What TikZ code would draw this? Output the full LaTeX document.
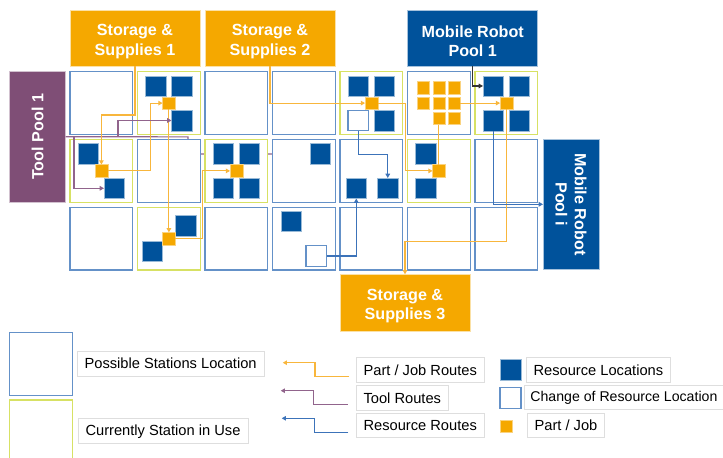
\documentclass[tikz,border=0pt]{standalone}
\usepackage{fontspec}
\setmainfont{Liberation Sans}
\usetikzlibrary{arrows.meta}
\definecolor{dblue}{RGB}{0,82,155}
\definecolor{orng}{RGB}{245,168,0}
\definecolor{purp}{RGB}{127,78,118}
\definecolor{cellblue}{RGB}{100,145,200}
\definecolor{cellyel}{RGB}{215,225,100}
\definecolor{rorange}{RGB}{248,182,60}
\definecolor{rblue}{RGB}{60,115,185}
\definecolor{rpurp}{RGB}{145,100,140}
\definecolor{lblgray}{RGB}{222,222,222}
\tikzset{
  cellb/.style={draw=cellblue, fill=white, line width=1pt, minimum size=47.1pt, inner sep=0pt, outer sep=0pt, anchor=north west},
  celly/.style={draw=cellyel, fill=white, line width=1pt, minimum size=47.1pt, inner sep=0pt, outer sep=0pt, anchor=north west},
  dsq/.style={fill=dblue, draw=white!60!dblue, line width=0.3pt, minimum size=15.4pt, inner sep=0pt, outer sep=0pt, anchor=north west},
  wsq/.style={fill=white, draw=cellblue, line width=0.9pt, minimum size=15.4pt, inner sep=0pt, outer sep=0pt, anchor=north west},
  osq/.style={fill=orng, draw=white!50!orng, line width=0.3pt, minimum size=9.5pt, inner sep=0pt, outer sep=0pt},
  gsq/.style={fill=orng, draw=white!50!orng, line width=0.3pt, minimum size=9.2pt, inner sep=0pt, outer sep=0pt},
  hbox/.style={draw=white!65!#1, fill=#1, line width=0.6pt, inner sep=0pt, outer sep=0pt, anchor=north west},
  hdr/.style={font=\bfseries\fontsize{12.1}{14.5}\selectfont, text=white, align=center, inner sep=0pt},
  lbl/.style={draw=lblgray, fill=white, line width=0.6pt, inner xsep=5.6pt, inner ysep=0pt, minimum height=18.5pt, anchor=west, font=\fontsize{11}{13}\selectfont, text=black},
  tip/.style={-{Triangle[length=3.2pt,width=3.4pt]}},
  rO/.style={draw=rorange, line width=0.8pt},
  rB/.style={draw=rblue, line width=0.8pt},
  rP/.style={draw=rpurp, line width=0.9pt},
  rK/.style={draw=black!80, line width=0.8pt},
}
\begin{document}
\begin{tikzpicture}[x=0.75pt,y=-0.75pt]
\useasboundingbox (0,0) rectangle (723,457);
\clip (0,0) rectangle (723,457);

% header boxes
\node[hbox=orng, minimum width=97.5pt, minimum height=42pt] (s1) at (70,10) {};
\node[hdr, yshift=-2.6pt] (s1t) at (s1.center) {Storage \&\\Supplies 1};
\node[hbox=orng, minimum width=97.5pt, minimum height=42pt] (s2) at (205,10) {};
\node[hdr, yshift=-2.6pt] (s2t) at (s2.center) {Storage \&\\Supplies 2};
\node[hbox=dblue, minimum width=97.5pt, minimum height=42pt] (mrp1) at (407.7,10) {};
\node[hdr, yshift=-2.6pt] (mrp1t) at (mrp1.center) {Mobile Robot\\Pool 1};
\node[hbox=orng, minimum width=97.5pt, minimum height=42.5pt] (s3) at (340,274.3) {};
\node[hdr, yshift=-2.6pt] (s3t) at (s3.center) {Storage \&\\Supplies 3};
\node[hbox=purp, minimum width=42.3pt, minimum height=97.7pt] (tp) at (9.3,71.7) {};
\node[hdr, rotate=90] (tpt) at (tp.center) {Tool Pool 1};
\node[hbox=dblue, minimum width=42pt, minimum height=97.5pt] (mrpi) at (543,139.3) {};
\node[hdr, rotate=-90] (mrpit) at (mrpi.center) {Mobile Robot\\Pool i};

% hidden tool route (behind cells)
\draw[rP] (tp.east) -- (188,136.85) -- (188,154) -- (300,154);

% cells
\node[cellb] (c11) at (70,71.7) {};
\node[celly] (c12) at (137.5,71.7) {};
\node[cellb] (c13) at (205,71.7) {};
\node[cellb] (c14) at (272.5,71.7) {};
\node[celly] (c15) at (340,71.7) {};
\node[cellb] (c16) at (407.5,71.7) {};
\node[celly] (c17) at (475,71.7) {};
\node[celly] (c21) at (70,139.5) {};
\node[cellb] (c22) at (137.5,139.5) {};
\node[celly] (c23) at (205,139.5) {};
\node[cellb] (c24) at (272.5,139.5) {};
\node[cellb] (c25) at (340,139.5) {};
\node[celly] (c26) at (407.5,139.5) {};
\node[cellb] (c27) at (475,139.5) {};
\node[cellb] (c31) at (70,207.3) {};
\node[celly] (c32) at (137.5,207.3) {};
\node[cellb] (c33) at (205,207.3) {};
\node[cellb] (c34) at (272.5,207.3) {};
\node[cellb] (c35) at (340,207.3) {};
\node[cellb] (c36) at (407.5,207.3) {};
\node[cellb] (c37) at (475,207.3) {};

% resources
\node[dsq] (d12a) at (145.5,75.7) {};
\node[dsq] (d12b) at (171.5,75.7) {};
\node[dsq] (d12c) at (171.5,110.2) {};
\node[dsq] (d15a) at (348,75.7) {};
\node[dsq] (d15b) at (374,75.7) {};
\node[wsq] (w15) at (348,110.2) {};
\node[dsq] (d15d) at (374,110.2) {};
\node[dsq] (d17a) at (483,75.7) {};
\node[dsq] (d17b) at (509,75.7) {};
\node[dsq] (d17c) at (483,110.2) {};
\node[dsq] (d17d) at (509,110.2) {};
\node[dsq] (d21a) at (78,143.5) {};
\node[dsq] (d21b) at (104,178) {};
\node[dsq] (d23a) at (213,143.5) {};
\node[dsq] (d23b) at (239,143.5) {};
\node[dsq] (d23c) at (213,178) {};
\node[dsq] (d23d) at (239,178) {};
\node[dsq] (d24) at (310,143.5) {};
\node[dsq] (d25a) at (346,178) {};
\node[dsq] (d25b) at (377.5,178) {};
\node[dsq] (d26a) at (415.5,143.5) {};
\node[dsq] (d26b) at (415.5,178) {};
\node[dsq] (d32a) at (175.5,215.3) {};
\node[dsq] (d32b) at (141.7,241) {};
\node[dsq] (d34) at (280.7,211) {};
\node[wsq] (w34) at (306,245.7) {};

% parts
\node[osq] (o12) at (168.9,103.1) {};
\node[osq] (o15) at (371.4,103.1) {};
\node[osq] (o17) at (506.4,103.1) {};
\node[osq] (o21) at (101.4,170.9) {};
\node[osq] (o23) at (236.4,170.9) {};
\node[osq] (o26) at (438.9,170.9) {};
\node[osq] (o32) at (168.9,238.7) {};
\node[gsq] (g1) at (423.5,87.7) {};
\node[gsq] (g2) at (438.9,87.7) {};
\node[gsq] (g3) at (454.3,87.7) {};
\node[gsq] (g4) at (423.5,103.1) {};
\node[gsq] (g5) at (438.9,103.1) {};
\node[gsq] (g6) at (454.3,103.1) {};
\node[gsq] (g8) at (438.9,118.5) {};
\node[gsq] (g9) at (454.3,118.5) {};

% part / job routes
\draw[rO,tip] (s1.south) -- (135,115) -| (o21.north);
\draw[rO,tip] (o21.east) -- ++(42.4,0) |- (o12.west);
\draw[rO,tip] (o12.south) -- (o32.north);
\draw[rO,tip] (o32.east) -- ++(27.5,0) |- (o23.west);
\draw[rO,tip] (s2.south) |- (o15.west);
\draw[rO,tip] (o15.east) -- ++(27.3,0) |- (o26.west);
\draw[rO] (g8.south) -- (o26.north);
\draw[rO,tip] (g6.east) -- (o17.west);
\draw[rO,tip] (o17.south) -- ++(0,132.25) -| (s3.north);

% mobile robot route
\draw[rK,tip] (mrp1.south) |- (d17a.west);

% resource routes
\draw[rB,tip] (w15.south) -- ++(0,23.6) -| (d25b.north);
\draw[rB,tip] (w34.east) -| (d25a.south);
\draw[rB,tip] (d17c.south) |- (mrpi.west);

% tool routes
\path (tp.east) ++(8.3,0) coordinate (pb1) ++(44,0) coordinate (pb2);
\draw[rP,tip] (pb1) |- (d21b.west);
\draw[rP,tip] (pb2) |- (d12c.west);

% legend
\node[cellb, minimum size=47.2pt] (lgb) at (9.3,332.3) {};
\node[celly, minimum size=47.5pt] (lgy) at (9.3,400) {};
\node[lbl] (lpos) at (76.7,363.7) {Possible Stations Location};
\node[lbl] (lcur) at (77.7,431.2) {Currently Station in Use};

\coordinate (lo1) at (349.3,376.7);
\coordinate (lo2) at (282.7,362.7);
\draw[rO,tip] (lo1) -- (315,376.7) |- (lo2);
\coordinate (lp1) at (347.7,404.3);
\coordinate (lp2) at (280.7,390.7);
\draw[rP,tip] (lp1) -- (313.3,404.3) |- (lp2);
\coordinate (lb1) at (348.3,432.3);
\coordinate (lb2) at (281.7,418.3);
\draw[rB,tip] (lb1) -- (314.3,432.3) |- (lb2);

\node[lbl] (lpj) at (355.7,370) {Part / Job Routes};
\node[lbl] (ltr) at (355.7,397.9) {Tool Routes};
\node[lbl] (lrr) at (355.7,425.3) {Resource Routes};

\node[dsq, minimum size=15.8pt] (lgd) at (500,359) {};
\node[wsq, minimum size=15.8pt] (lgw) at (500,387.3) {};
\node[osq, anchor=north west] (lgo) at (500,420) {};
\node[lbl] (lrl) at (525.7,370) {Resource Locations};
\node[lbl, inner xsep=4.5pt, font=\fontsize{10.6}{13}\selectfont] (lcr) at (524,397.5) {Change of Resource Location};
\node[lbl] (lpart) at (526.7,425.3) {Part / Job};
\end{tikzpicture}
\end{document}
